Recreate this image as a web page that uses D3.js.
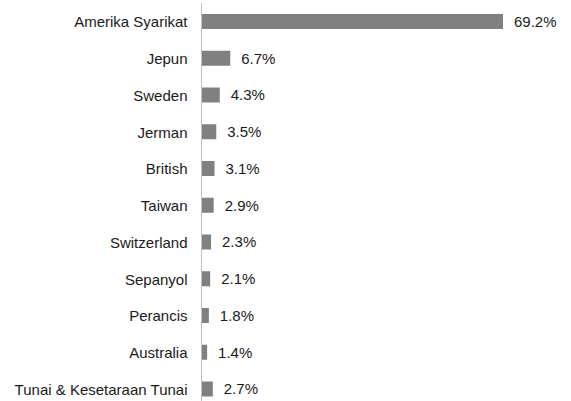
<!DOCTYPE html>
<html><head><meta charset="utf-8">
<script src="https://cdn.jsdelivr.net/npm/d3@7"></script>
<style>body{margin:0;background:#fff}svg{display:block}</style>
</head><body>
<svg id="c" width="571" height="401"></svg>
<script>
const categories = ["Amerika Syarikat","Jepun","Sweden","Jerman","British","Taiwan","Switzerland","Sepanyol","Perancis","Australia","Tunai & Kesetaraan Tunai"];
const values = [69.2,6.7,4.3,3.5,3.1,2.9,2.3,2.1,1.8,1.4,2.7];
const labels = ["69.2%","6.7%","4.3%","3.5%","3.1%","2.9%","2.3%","2.1%","1.8%","1.4%","2.7%"];

const svg = d3.select("#c");
const x0 = 201;
const x = d3.scaleLinear().domain([0, 69.2]).range([x0, 503]);
const y = d3.scalePoint().domain(categories).range([21.5, 389]);
const bh = 15;
const font = "Liberation Sans, Arial, sans-serif";
const fs = 15;

svg.selectAll("rect.bar").data(values).join("rect")
  .attr("class","bar")
  .attr("x", x(0))
  .attr("y", (d,i)=> y(categories[i]) - bh/2)
  .attr("width", d => x(d) - x(0))
  .attr("height", bh)
  .attr("fill", "#808080");

svg.append("line").attr("x1", x0+0.5).attr("x2", x0+0.5).attr("y1", 3).attr("y2", 401)
  .attr("stroke", "#bfbfbf").attr("stroke-width", 1);

const yAxis = d3.axisLeft(y).tickSize(0).tickPadding(13.5);
const g = svg.append("g").attr("transform", `translate(${x0},0)`).call(yAxis);
g.select(".domain").remove();
g.selectAll("text").attr("font-family", font).attr("font-size", fs).attr("fill", "#1a1a1a").attr("dy", "0.36em");

svg.selectAll("text.val").data(values).join("text")
  .attr("class","val")
  .attr("x", d => x(d) + 11)
  .attr("y", (d,i)=> y(categories[i]))
  .attr("dy", "0.36em")
  .attr("font-family", font).attr("font-size", fs).attr("fill", "#1a1a1a")
  .text((d,i)=> labels[i]);
</script>
</body></html>
